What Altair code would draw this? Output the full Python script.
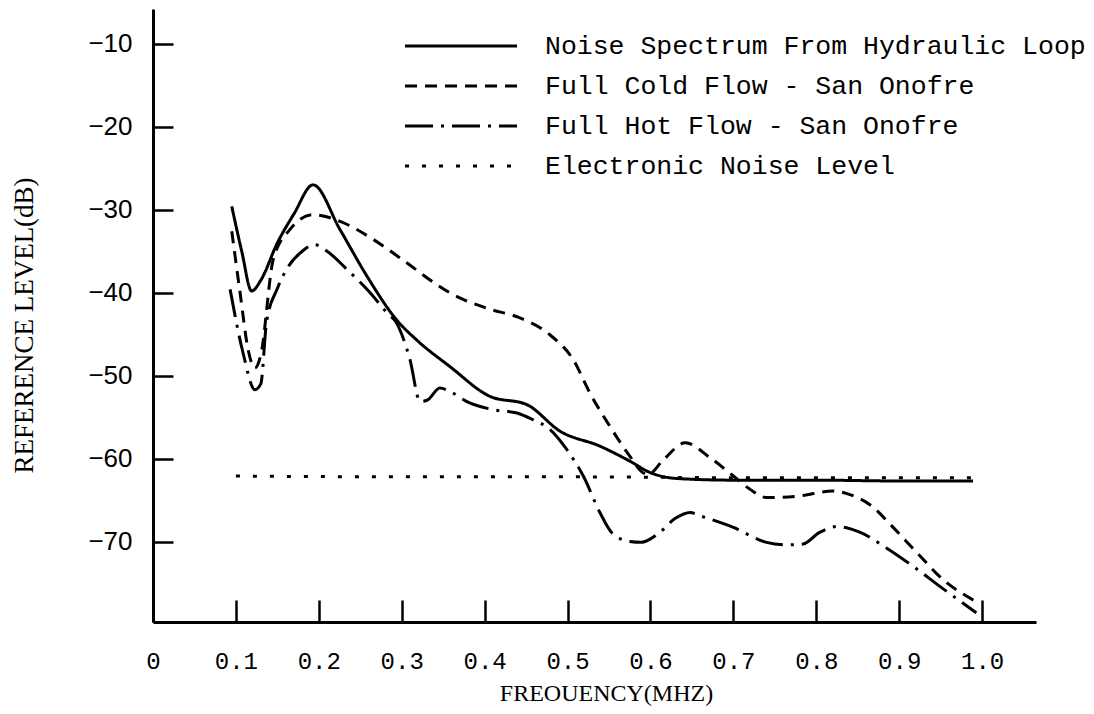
import altair as alt
import pandas as pd

S1 = "Noise Spectrum From Hydraulic Loop"
S2 = "Full Cold Flow - San Onofre"
S3 = "Full Hot Flow - San Onofre"
S4 = "Electronic Noise Level"
series_names = [S1, S2, S3, S4]

# Noise Spectrum From Hydraulic Loop (solid)
solid_f = [0.095, 0.107, 0.119, 0.13, 0.15, 0.17, 0.193, 0.2256, 0.258, 0.294, 0.318,
           0.358, 0.4065, 0.451, 0.491, 0.539, 0.575, 0.600, 0.632, 0.70, 0.80, 0.90, 0.989]
solid_db = [-29.6, -35.0, -39.8, -38.5, -34.0, -30.5, -27.0, -32.4, -38.0, -43.3, -45.7,
            -48.9, -52.5, -53.5, -56.7, -58.5, -60.3, -61.7, -62.4, -62.6, -62.6, -62.7, -62.7]

# Full Cold Flow - San Onofre (dashed)
cold_f = [0.095, 0.105, 0.115, 0.123, 0.130, 0.145, 0.165, 0.193, 0.2256, 0.266, 0.306,
          0.342, 0.358, 0.4065, 0.439, 0.479, 0.507, 0.527, 0.551, 0.575, 0.591, 0.597,
          0.616, 0.642, 0.672, 0.70, 0.72, 0.74, 0.78, 0.82, 0.836, 0.869, 0.889, 0.921,
          0.953, 0.992]
cold_db = [-32.6, -40.0, -47.0, -49.1, -47.5, -36.0, -32.4, -30.6, -31.4, -33.6, -36.4,
           -39.0, -40.0, -42.0, -42.9, -45.1, -48.1, -52.1, -56.1, -59.7, -61.7, -61.9,
           -60.1, -58.1, -59.9, -62.1, -63.7, -64.7, -64.5, -63.9, -64.2, -65.9, -67.9, -71.3,
           -74.6, -77.2]

# Full Hot Flow - San Onofre (dash-dot)
hot_f = [0.093, 0.108, 0.123, 0.130, 0.137, 0.150, 0.161, 0.18, 0.195, 0.21, 0.234, 0.26,
         0.282, 0.294, 0.31, 0.322, 0.33, 0.346, 0.36, 0.378, 0.41, 0.439, 0.458, 0.479,
         0.499, 0.519, 0.539, 0.554, 0.575, 0.589, 0.61, 0.63, 0.648, 0.66, 0.70, 0.74,
         0.764, 0.784, 0.804, 0.824, 0.853, 0.885, 0.917, 0.949, 0.993]
hot_db = [-39.6, -47.0, -51.7, -51.0, -43.5, -39.5, -37.2, -35.0, -34.2, -35.0, -37.2, -39.8,
          -42.4, -43.7, -48.1, -53.1, -53.0, -51.5, -52.0, -53.1, -54.1, -54.5, -55.3, -56.5,
          -58.9, -62.1, -66.5, -69.0, -70.0, -70.1, -69.0, -67.2, -66.5, -66.9, -68.3, -70.1,
          -70.4, -70.3, -68.9, -68.2, -68.9, -70.8, -73.0, -75.4, -78.6]

# Electronic Noise Level (dotted)
elec_f = [0.10, 0.30, 0.50, 0.70, 0.99]
elec_db = [-62.1, -62.2, -62.2, -62.3, -62.3]

x_ticks = [0, 0.1, 0.2, 0.3, 0.4, 0.5, 0.6, 0.7, 0.8, 0.9, 1.0]
y_ticks = [-10, -20, -30, -40, -50, -60, -70]

X_MIN, X_MAX = 0, 1.065
Y_MIN, Y_MAX = -79.7, -5.8

rows = []
for name, fs, ds in [(S1, solid_f, solid_db), (S2, cold_f, cold_db),
                     (S3, hot_f, hot_db), (S4, elec_f, elec_db)]:
    for i, (f, d) in enumerate(zip(fs, ds)):
        rows.append({"series": name, "f": f, "level": d, "idx": i})
df = pd.DataFrame(rows)

dash_scale = alt.Scale(domain=series_names,
                       range=[[1, 0], [12, 8], [28, 8, 3, 8], [4, 13]])
x_scale = alt.Scale(domain=[X_MIN, X_MAX], nice=False, zero=False)
y_scale = alt.Scale(domain=[Y_MIN, Y_MAX], nice=False, zero=False)

# ticks point inward (negative size given through an expression)
x_axis = alt.Axis(values=x_ticks, ticks=True, tickSize={"expr": "-22"}, tickWidth=2.5,
                  tickColor="black", grid=False,
                  labelExpr="datum.value == 0 ? '0' : format(datum.value, '.1f')",
                  domainColor="black", domainWidth=3,
                  labelFont="Liberation Mono", labelFontSize=24, labelColor="black",
                  labelPadding=49, labelFlush=False, labelOverlap=False,
                  title="FREOUENCY(MHZ)", titleFont="Liberation Serif", titleFontSize=24,
                  titleFontWeight="normal", titleColor="black", titleX=453, titleY=78,
                  titleAlign="center", titleBaseline="alphabetic")
y_axis = alt.Axis(values=y_ticks, ticks=True, tickSize={"expr": "-20"}, tickWidth=2.5,
                  tickColor="black", grid=False,
                  domainColor="black", domainWidth=3,
                  labelFont="Liberation Sans", labelFontSize=26, labelColor="black",
                  labelPadding=41, labelFlush=False, labelOverlap=False,
                  title="REFERENCE LEVEL(dB)", titleFont="Liberation Serif", titleFontSize=27,
                  titleFontWeight="normal", titleColor="black", titleAngle=270,
                  titleX=-121, titleY=316, titleAlign="center", titleBaseline="alphabetic")

lines = alt.Chart(df).mark_line(color="black", strokeWidth=3, interpolate="monotone").encode(
    x=alt.X("f:Q", scale=x_scale, axis=x_axis),
    y=alt.Y("level:Q", scale=y_scale, axis=y_axis),
    strokeDash=alt.StrokeDash("series:N", scale=dash_scale, legend=None),
    detail="series:N",
    order=alt.Order("idx:Q"),
)

leg_df = pd.DataFrame({"series": series_names, "row": [0, 1, 2, 3]})
row_scale = alt.Scale(domain=[0, 3], range=[37, 157], nice=False, zero=False)
leg_lines = alt.Chart(leg_df).mark_rule(color="black", strokeWidth=3).encode(
    y=alt.Y("row:Q", scale=row_scale, axis=None),
    x=alt.value(252), x2=alt.value(364),
    strokeDash=alt.StrokeDash("series:N", scale=dash_scale, legend=None),
)
leg_text = alt.Chart(leg_df).mark_text(align="left", baseline="middle", font="Liberation Mono",
                                       fontSize=26.5, color="black").encode(
    y=alt.Y("row:Q", scale=row_scale, axis=None),
    x=alt.value(392),
    text="series:N",
)
legend = alt.layer(leg_lines, leg_text)

chart = alt.layer(lines, legend).resolve_scale(y="independent").properties(
    width=883, height=613,
    autosize=alt.AutoSizeParams(type="none"),
    padding={"left": 145, "top": 1, "right": 50, "bottom": 84},
    background="white",
).configure_view(stroke=None)

chart.save("out.html", embed_options={"renderer": "svg", "actions": False})
